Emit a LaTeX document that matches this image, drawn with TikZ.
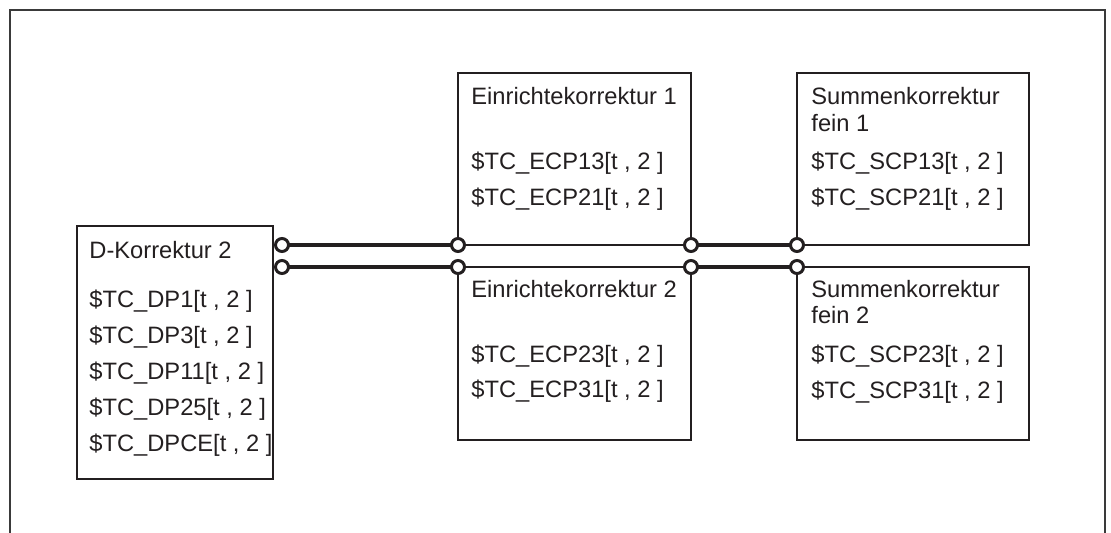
\documentclass[tikz,border=0pt]{standalone}
\usepackage{fontspec}
\setmainfont{Liberation Sans}
\definecolor{inkgray}{HTML}{231F20}
\definecolor{framegray}{HTML}{3A3A3A}

\begin{document}
\begin{tikzpicture}[
    x=0.5pt, y=0.5pt,
    box/.style={rectangle, draw=inkgray, line width=0.85pt, inner sep=0pt, outer sep=0pt, anchor=north west},
    txt/.style={inner sep=0pt, anchor=base west, text=inkgray, font=\fontsize{11.85}{14}\selectfont},
    port/.style={circle, draw=inkgray, fill=white, line width=1.5pt, inner sep=0pt, outer sep=0pt, minimum size=6.5pt},
    bus/.style={draw=inkgray, line width=1.8pt},
]

\useasboundingbox (0,0) rectangle (1111,533);

% Outer frame (open at the bottom)
\draw[framegray, line width=1.1pt] (10,0) -- (10,523) -- (1105,523) -- (1105,0);

% Boxes
\node[box, minimum width=98pt, minimum height=126.5pt] (dkor) at (77,307) {};
\node[box, minimum width=116.5pt, minimum height=86pt] (ein1) at (458,460) {};
\node[box, minimum width=116.5pt, minimum height=86.5pt] (ein2) at (458,266) {};
\node[box, minimum width=116pt, minimum height=86pt] (sum1) at (797,460) {};
\node[box, minimum width=116pt, minimum height=86.5pt] (sum2) at (797,266) {};

% Texts D-Korrektur
\node[txt] (dtitle) at (89,274) {D-Korrektur 2};
\node[txt] (ddp1) at (89,225) {\$TC\_DP1[t , 2 ]};
\node[txt] (ddp3) at (89,189) {\$TC\_DP3[t , 2 ]};
\node[txt] (ddp11) at (89,153) {\$TC\_DP11[t , 2 ]};
\node[txt] (ddp25) at (89,117) {\$TC\_DP25[t , 2 ]};
\node[txt] (ddpce) at (89,81) {\$TC\_DPCE[t , 2 ]};

% Texts Einrichtekorrektur
\node[txt] (e1title) at (471,428) {Einrichtekorrektur 1};
\node[txt] (e1p13) at (471,363) {\$TC\_ECP13[t , 2 ]};
\node[txt] (e1p21) at (471,327) {\$TC\_ECP21[t , 2 ]};
\node[txt] (e2title) at (471,235) {Einrichtekorrektur 2};
\node[txt] (e2p23) at (471,170) {\$TC\_ECP23[t , 2 ]};
\node[txt] (e2p31) at (471,135) {\$TC\_ECP31[t , 2 ]};

% Texts Summenkorrektur
\node[txt] (s1title) at (811,428) {Summenkorrektur};
\node[txt] (s1fein) at (811,401) {fein 1};
\node[txt] (s1p13) at (811,363) {\$TC\_SCP13[t , 2 ]};
\node[txt] (s1p21) at (811,327) {\$TC\_SCP21[t , 2 ]};
\node[txt] (s2title) at (811,235) {Summenkorrektur};
\node[txt] (s2fein) at (811,209) {fein 2};
\node[txt] (s2p23) at (811,170) {\$TC\_SCP23[t , 2 ]};
\node[txt] (s2p31) at (811,134) {\$TC\_SCP31[t , 2 ]};

% Port positions
\coordinate (dout1) at (282,288);
\coordinate (dout2) at (282,266);

% Thick connections
\draw[bus] (dout1) -- (ein1.south west);
\draw[bus] (dout2) -- (ein2.north west);
\draw[bus] (ein1.south east) -- (sum1.south west);
\draw[bus] (ein2.north east) -- (sum2.north west);

% Ports
\node[port] (pd1) at (dout1) {};
\node[port] (pd2) at (dout2) {};
\node[port] (pe1l) at (ein1.south west) {};
\node[port] (pe2l) at (ein2.north west) {};
\node[port] (pe1r) at (ein1.south east) {};
\node[port] (pe2r) at (ein2.north east) {};
\node[port] (ps1) at (sum1.south west) {};
\node[port] (ps2) at (sum2.north west) {};

\end{tikzpicture}
\end{document}
